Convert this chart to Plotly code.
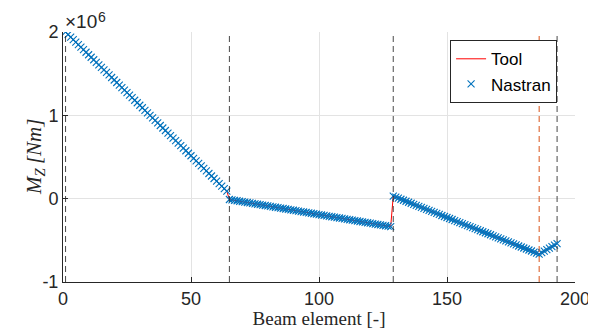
import plotly.graph_objects as go

# Beam element indices
elements = list(range(1, 194))

# Bending moment M_Z in units of 1e6 Nm
seg1 = [2.000, 1.970, 1.939, 1.909, 1.879, 1.848, 1.818, 1.788, 1.757, 1.727,
        1.697, 1.667, 1.636, 1.606, 1.576, 1.545, 1.515, 1.485, 1.454, 1.424,
        1.394, 1.363, 1.333, 1.303, 1.272, 1.242, 1.212, 1.181, 1.151, 1.121,
        1.091, 1.060, 1.030, 1.000, 0.969, 0.939, 0.909, 0.878, 0.848, 0.818,
        0.787, 0.757, 0.727, 0.696, 0.666, 0.636, 0.606, 0.575, 0.545, 0.515,
        0.484, 0.454, 0.424, 0.393, 0.363, 0.333, 0.302, 0.272, 0.242, 0.211,
        0.181, 0.151, 0.120, 0.090]
seg2 = [-0.010, -0.015, -0.020, -0.025, -0.031, -0.036, -0.041, -0.046, -0.051, -0.056,
        -0.062, -0.067, -0.072, -0.077, -0.082, -0.087, -0.093, -0.098, -0.103, -0.108,
        -0.113, -0.118, -0.124, -0.129, -0.134, -0.139, -0.144, -0.150, -0.155, -0.160,
        -0.165, -0.170, -0.175, -0.181, -0.186, -0.191, -0.196, -0.201, -0.206, -0.212,
        -0.217, -0.222, -0.227, -0.232, -0.237, -0.243, -0.248, -0.253, -0.258, -0.263,
        -0.268, -0.274, -0.279, -0.284, -0.289, -0.294, -0.299, -0.305, -0.310, -0.315,
        -0.320, -0.325, -0.330, -0.335]
seg3 = [0.030, 0.018, 0.006, -0.007, -0.019, -0.031, -0.043, -0.055, -0.068, -0.080,
        -0.092, -0.104, -0.116, -0.129, -0.141, -0.153, -0.165, -0.177, -0.189, -0.202,
        -0.214, -0.226, -0.238, -0.250, -0.263, -0.275, -0.287, -0.299, -0.311, -0.324,
        -0.336, -0.348, -0.360, -0.372, -0.385, -0.397, -0.409, -0.421, -0.433, -0.446,
        -0.458, -0.470, -0.482, -0.494, -0.507, -0.519, -0.531, -0.543, -0.555, -0.568,
        -0.580, -0.592, -0.604, -0.616, -0.628, -0.641, -0.653, -0.665]
seg4 = [-0.647, -0.629, -0.611, -0.594, -0.576, -0.558, -0.540]

tool_values = seg1 + seg2 + seg3 + seg4
nastran_values = seg1 + seg2 + seg3 + seg4

section_bounds = [1, 65, 129, 193]
special_bound = [186]

x_ticks = [0, 50, 100, 150, 200]
y_ticks = [-1, 0, 1, 2]
y_tick_labels = ["-1", "0", "1", "2"]

fig = go.Figure()

for b in section_bounds:
    fig.add_vline(x=b, line=dict(color="rgba(40,40,40,0.85)", width=1, dash="6px,4px"), layer="above")
for b in special_bound:
    fig.add_vline(x=b, line=dict(color="#D95319", width=1, dash="6px,4px"), layer="above")

fig.add_trace(go.Scatter(x=elements, y=tool_values, mode="lines", name="Tool",
                         line=dict(color="#FF0000", width=1)))
fig.add_trace(go.Scatter(x=elements, y=nastran_values, mode="markers", name="Nastran",
                         marker=dict(symbol="x-thin", size=7, color="#0072BD",
                                     line=dict(width=1.1, color="#0072BD"))))

axis_font = dict(family="Liberation Sans, Arial, sans-serif", size=18, color="#262626")

# the page body adds an 8px margin, so the figure is sized to fit inside it
fig.update_layout(
    width=588, height=321,
    margin=dict(l=55, r=21, t=24, b=47),
    paper_bgcolor="white", plot_bgcolor="white",
    showlegend=True,
    legend=dict(x=0.965, y=0.967, xanchor="right", yanchor="top",
                bgcolor="white", bordercolor="#262626", borderwidth=1,
                font=dict(family="Liberation Sans, Arial, sans-serif", size=17, color="#000000"),
                tracegroupgap=0, itemwidth=30),
    xaxis=dict(range=[0, 200], tickvals=x_ticks, ticks="inside", ticklen=5,
               tickcolor="#262626", showline=True, linecolor="#262626", linewidth=1,
               showgrid=True, gridcolor="#E3E3E3", zeroline=False, automargin=False,
               tickfont=axis_font,
               title=dict(text="Beam element [-]", standoff=4,
                          font=dict(family="Liberation Serif, Times New Roman, serif", size=19, color="#262626"))),
    yaxis=dict(range=[-1, 2], tickvals=y_ticks, ticktext=y_tick_labels, ticks="inside", ticklen=5,
               tickcolor="#262626", showline=True, linecolor="#262626", linewidth=1,
               showgrid=True, gridcolor="#E3E3E3", zeroline=False, automargin=False,
               tickfont=axis_font),
)

# y-axis title placed close to the tick labels, as in the reference
fig.add_annotation(text="<i>M<sub>Z</sub>\u2009[Nm]</i>", xref="paper", yref="paper",
                   x=0.0, y=0.5, xshift=-28, xanchor="center", yanchor="middle",
                   textangle=-90, showarrow=False,
                   font=dict(family="Liberation Serif, Times New Roman, serif", size=21, color="#262626"))

# exponent label "×10^6" above the y axis
fig.add_annotation(text="×10", xref="paper", yref="paper", x=0.0, y=1.0,
                   xanchor="left", yanchor="bottom", showarrow=False, xshift=0, yshift=-2,
                   font=dict(family="Liberation Sans, Arial, sans-serif", size=19, color="#262626"))
fig.add_annotation(text="6", xref="paper", yref="paper", x=0.0, y=1.0,
                   xanchor="left", yanchor="bottom", showarrow=False, xshift=33, yshift=5,
                   font=dict(family="Liberation Sans, Arial, sans-serif", size=14, color="#262626"))

fig.write_html("out.html")
